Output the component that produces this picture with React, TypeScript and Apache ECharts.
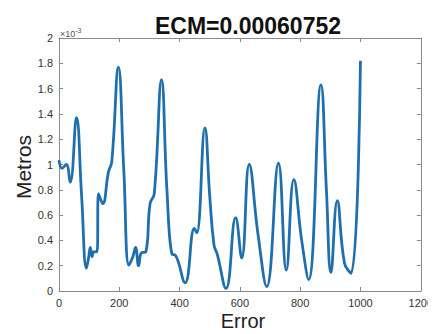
import React, { useEffect, useRef } from "react";
import * as echarts from "echarts";

const xValues = [0, 10, 24, 37, 58, 75, 91, 98, 104, 110, 115, 126, 131, 145, 164, 175, 197, 215, 232, 245, 254, 264, 273, 288, 302, 316, 340, 358, 375, 385, 418, 449, 457, 484, 500, 514, 525, 554, 586, 606, 631, 660, 689, 728, 754, 779, 805, 828, 869, 887, 902, 923, 947, 969, 1000];
const yValues = [1.035, 0.97, 1.0, 0.86, 1.37, 0.75, 0.18, 0.26, 0.345, 0.27, 0.31, 0.31, 0.77, 0.69, 0.94, 1.02, 1.77, 0.95, 0.205, 0.27, 0.345, 0.2, 0.3, 0.31, 0.69, 0.77, 1.67, 0.8, 0.29, 0.285, 0.065, 0.495, 0.46, 1.29, 0.75, 0.365, 0.29, 0.02, 0.58, 0.26, 1.0, 0.45, 0.035, 1.01, 0.165, 0.88, 0.4, 0.09, 1.63, 0.8, 0.145, 0.715, 0.22, 0.14, 1.82];
const xTicks = [0, 200, 400, 600, 800, 1000, 1200];
const yTickStep = 0.2;
const title = "ECM=0.00060752";
const xName = "Error";
const yName = "Metros";

export default function App() {
  const ref = useRef<HTMLDivElement>(null);
  useEffect(() => {
    if (!ref.current) return;
    const chart = echarts.init(ref.current, null, { renderer: "svg" });
    const font = "'Liberation Sans', Arial, sans-serif";
    const axisColor = "#8a8a8a";
    const labelColor = "#333333";
    chart.setOption({
      animation: false,
      backgroundColor: "#ffffff",
      title: {
        text: title,
        left: 243,
        top: 9,
        textAlign: "center",
        textStyle: { fontFamily: font, fontSize: 23, fontWeight: "bold", color: "#111" },
      },
      grid: { left: 59, right: 9, top: 38, bottom: 43, containLabel: false },
      graphic: [
        {
          type: "text",
          left: 60,
          top: 27,
          style: {
            text: "{a|×10}{b|-3}",
            fontFamily: font,
            rich: {
              a: { fontSize: 9, fill: "#555", fontFamily: font },
              b: { fontSize: 7, fill: "#555", fontFamily: font, verticalAlign: "top", padding: [0, 0, 6, 0] },
            },
          },
        },
        {
          type: "text",
          x: 243,
          y: 321,
          style: { text: xName, fontFamily: font, fontSize: 20, fill: "#222", textAlign: "center", textVerticalAlign: "middle" },
        },
        {
          type: "text",
          x: 23,
          y: 167,
          rotation: Math.PI / 2,
          style: { text: yName, fontFamily: font, fontSize: 21, fill: "#222", textAlign: "center", textVerticalAlign: "middle" },
        },
      ],
      xAxis: [
        {
          type: "value",
          min: xTicks[0],
          max: xTicks[xTicks.length - 1],
          interval: 200,
          position: "bottom",
          axisLine: { show: true, lineStyle: { color: axisColor, width: 1 } },
          axisTick: { show: true, inside: true, length: 4, lineStyle: { color: axisColor } },
          axisLabel: { color: labelColor, fontFamily: font, fontSize: 11, margin: 6, formatter: (v: number) => String(v) },
          splitLine: { show: false },
        },
        {
          type: "value",
          min: xTicks[0],
          max: xTicks[xTicks.length - 1],
          interval: 200,
          position: "top",
          axisLine: { show: true, onZero: false, lineStyle: { color: axisColor, width: 1 } },
          axisTick: { show: true, inside: true, length: 4, lineStyle: { color: axisColor } },
          axisLabel: { show: false },
          splitLine: { show: false },
        },
      ],
      yAxis: [
        {
          type: "value",
          min: 0,
          max: 2,
          interval: yTickStep,
          position: "left",
          axisLine: { show: true, lineStyle: { color: axisColor, width: 1 } },
          axisTick: { show: true, inside: true, length: 4, lineStyle: { color: axisColor } },
          axisLabel: {
            color: labelColor,
            fontFamily: font,
            fontSize: 11,
            margin: 6,
            formatter: (v: number) => String(parseFloat(v.toFixed(1))),
          },
          splitLine: { show: false },
        },
        {
          type: "value",
          min: 0,
          max: 2,
          interval: yTickStep,
          position: "right",
          axisLine: { show: true, onZero: false, lineStyle: { color: axisColor, width: 1 } },
          axisTick: { show: true, inside: true, length: 4, lineStyle: { color: axisColor } },
          axisLabel: { show: false },
          splitLine: { show: false },
        },
      ],
      series: [
        {
          type: "line",
          data: xValues.map((x, i) => [x, yValues[i]]),
          smooth: 0.45,
          showSymbol: false,
          lineStyle: { color: "#1f6fae", width: 2.8 },
          xAxisIndex: 0,
          yAxisIndex: 0,
        },
      ],
    });
    return () => chart.dispose();
  }, []);
  return (
    <div style={{ margin: -8, width: 436, height: 342, overflow: "hidden" }}>
      <div ref={ref} style={{ width: 436, height: 334 }} />
    </div>
  );
}
